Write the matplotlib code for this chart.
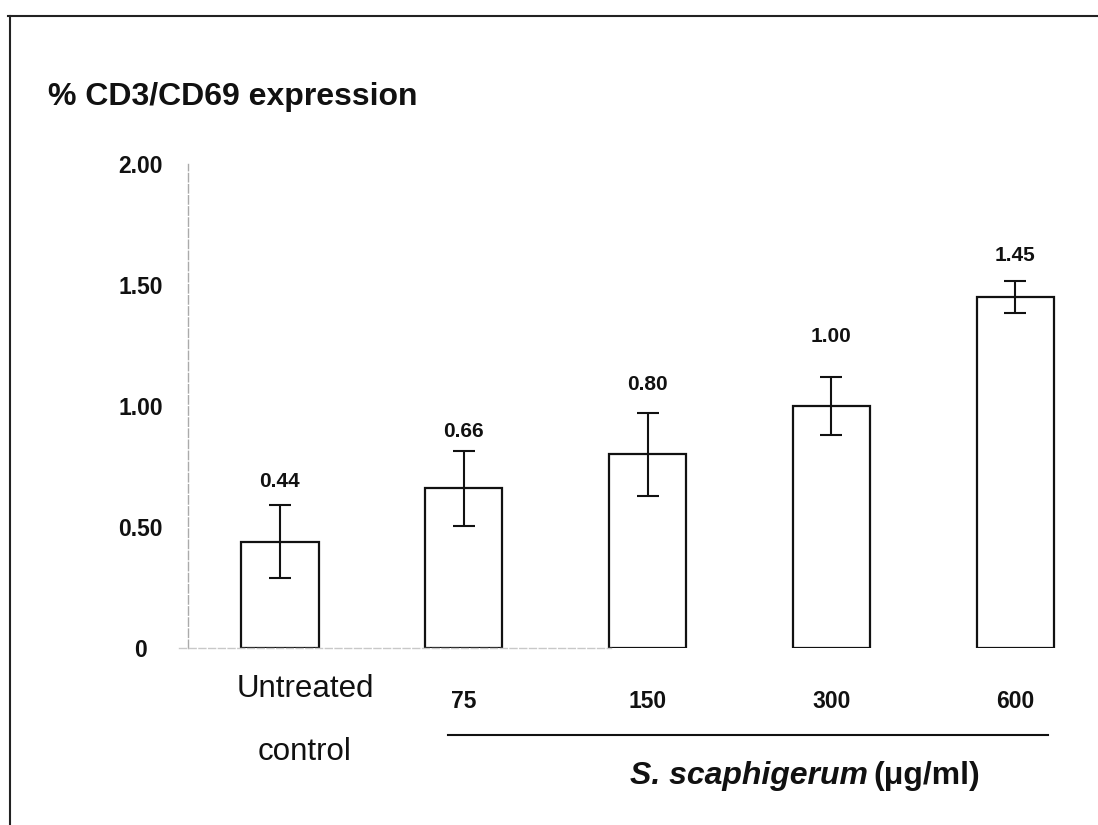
import matplotlib
matplotlib.use("Agg")
import matplotlib.pyplot as plt
from matplotlib.lines import Line2D

plt.rcParams['font.family'] = ['Liberation Sans', 'DejaVu Sans']

# data
groups = ["Untreated", "75", "150", "300", "600"]
means = [0.44, 0.66, 0.80, 1.00, 1.45]
errors = [0.15, 0.155, 0.17, 0.12, 0.065]
value_labels = ["0.44", "0.66", "0.80", "1.00", "1.45"]
yticks = [0, 0.5, 1.0, 1.5, 2.0]
ytick_labels = ["0", "0.50", "1.00", "1.50", "2.00"]

# extra gap (points) between error bar top and value label, as in the original
label_gap = [10, 7, 14, 22, 12]

W, H = 1098, 825
fig = plt.figure(figsize=(W / 100, H / 100), dpi=100)
ax = fig.add_axes([188 / W, 1 - 648 / H, (W - 188) / W, (648 - 164) / H])

x = list(range(len(groups)))
ax.bar(x, means, width=0.42, color='white', edgecolor='#111111', linewidth=1.6, zorder=2)
ax.errorbar(x, means, yerr=errors, fmt='none', ecolor='#111111', elinewidth=1.5,
            capsize=8, capthick=1.5, zorder=3)

for i in x:
    ax.annotate(value_labels[i], (i, means[i] + errors[i]), xytext=(0, label_gap[i]),
                textcoords='offset points', ha='center', va='bottom',
                fontsize=15, fontweight='bold', color='#111111')

ax.set_xlim(-0.5, 4.45)
ax.set_ylim(0, 2.0)

ax.set_yticks(yticks)
ax.set_yticklabels(ytick_labels, fontsize=16.5, fontweight='bold', color='#111111')
for lab in ax.get_yticklabels():
    lab.set_horizontalalignment('center')
ax.tick_params(axis='y', length=0, pad=34)

ax.set_xticks(x[1:])
ax.set_xticklabels(groups[1:], fontsize=16.5, fontweight='bold', color='#111111')
ax.tick_params(axis='x', length=0, pad=30)

for s in ['top', 'right']:
    ax.spines[s].set_visible(False)
ax.spines['left'].set_color('#aaaaaa')
ax.spines['left'].set_linestyle((0, (6, 2)))
ax.spines['left'].set_linewidth(1.0)
ax.spines['bottom'].set_color('#c8c8c8')
ax.spines['bottom'].set_linestyle((0, (5, 2)))
ax.spines['bottom'].set_linewidth(1.0)
ax.spines['bottom'].set_bounds(-0.55, 1.8)

# untreated control label
ax.text(0.136, -0.085, "Untreated", transform=ax.get_xaxis_transform(),
        ha='center', va='center', fontsize=22.5, color='#111111')
ax.text(0.136, -0.215, "control", transform=ax.get_xaxis_transform(),
        ha='center', va='center', fontsize=22.5, color='#111111')

# extract group line + label
ax.plot([0.914, 4.18], [-0.18, -0.18], transform=ax.get_xaxis_transform(),
        color='#111111', linewidth=1.5, clip_on=False)
ax.text(3.2, -0.264, "S. scaphigerum", transform=ax.get_xaxis_transform(),
        ha='right', va='center', fontsize=23, fontweight='bold', fontstyle='italic',
        color='#111111')
ax.text(3.23, -0.264, "(\u03bcg/ml)", transform=ax.get_xaxis_transform(),
        ha='left', va='center', fontsize=23, fontweight='bold', color='#111111')

fig.text(48 / W, 1 - 97 / H, "% CD3/CD69 expression", ha='left', va='center',
         fontsize=23, fontweight='bold', color='#111111')

# partial frame of the scanned figure
fig.add_artist(Line2D([10 / W, 10 / W], [0, 1 - 16 / H], transform=fig.transFigure,
                      color='#222222', linewidth=1.5))
fig.add_artist(Line2D([8 / W, 1], [1 - 16 / H, 1 - 16 / H], transform=fig.transFigure,
                      color='#222222', linewidth=1.5))

fig.savefig("out.png", dpi=100)
